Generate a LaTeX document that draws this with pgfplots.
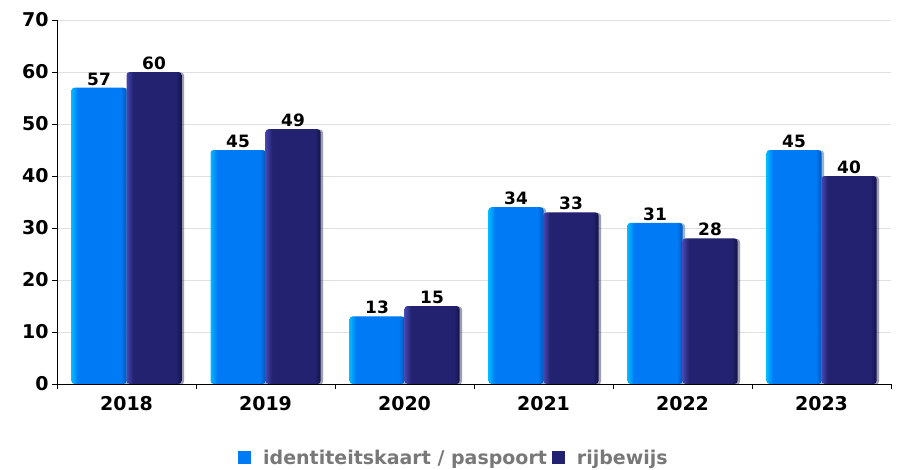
\documentclass[border=0pt]{standalone}
\usepackage{fontspec}
\setmainfont{DejaVu Sans}
\usepackage{pgfplots}
\pgfplotsset{compat=1.18}
\usetikzlibrary{shadows}
\definecolor{blueM}{RGB}{0,122,245}
\definecolor{blueL}{RGB}{0,185,255}
\definecolor{blueD}{RGB}{0,85,185}
\definecolor{navyM}{RGB}{34,34,112}
\definecolor{navyL}{RGB}{70,70,175}
\definecolor{navyD}{RGB}{20,20,72}
\definecolor{legtext}{RGB}{120,120,120}
\pgfdeclarehorizontalshading{barblue}{100bp}{color(0bp)=(blueL); color(25bp)=(blueL); color(31bp)=(blueM); color(70bp)=(blueM); color(75bp)=(blueD); color(100bp)=(blueD)}
\pgfdeclarehorizontalshading{barnavy}{100bp}{color(0bp)=(navyL); color(25bp)=(navyL); color(31bp)=(navyM); color(70bp)=(navyM); color(75bp)=(navyD); color(100bp)=(navyD)}
\pgfplotsset{
  bA/.style={ybar, bar width=55bp, bar shift=-27.5bp, draw=none, shading=barblue, rounded corners=3bp,
    drop shadow={shadow xshift=2.5bp, shadow yshift=-0.5bp, opacity=0.3}, forget plot,
    every node near coord/.append style={xshift=-27.5bp}},
  bB/.style={ybar, bar width=55bp, bar shift=27.5bp, draw=none, shading=barnavy, rounded corners=3bp,
    drop shadow={shadow xshift=2.5bp, shadow yshift=-0.5bp, opacity=0.3}, forget plot,
    every node near coord/.append style={xshift=27.5bp}},
}
\begin{document}
\begin{tikzpicture}
\path[use as bounding box] (0,0) rectangle (901bp,470bp);
\begin{axis}[
  at={(57bp,86bp)}, anchor=south west,
  scale only axis, width=834bp, height=364bp,
  ymin=0, ymax=70, ytick={0,10,...,70},
  xmin=-0.5, xmax=5.5, xtick={-0.5,0.5,...,5.5},
  x tick label as interval,
  xticklabels={2018,2019,2020,2021,2022,2023},
  x tick label style={yshift=-4bp},
  axis x line*=bottom, axis y line*=left,
  axis line style={-, black, line width=1pt},
  tick style={black, line width=1pt}, tick align=outside, major tick length=5bp,
  ymajorgrids, grid style={black!12, line width=0.8pt},
  /pgf/number format/assume math mode=true,
  ticklabel style={font=\bfseries\fontsize{19bp}{19bp}\selectfont, black},
  nodes near coords,
  nodes near coords style={font=\bfseries\fontsize{17bp}{17bp}\selectfont, black, inner sep=2bp, anchor=south},
  legend style={at={(0.476,-0.203)}, anchor=center, draw=none, fill=none,
    font=\bfseries\fontsize{19bp}{19bp}\selectfont, text=legtext,
    /tikz/every even column/.append style={column sep=3bp}},
  legend columns=2,
]
% identiteitskaart / paspoort
\addplot[bA] coordinates {(0,57)};
\addplot[bA] coordinates {(1,45)};
\addplot[bA] coordinates {(2,13)};
\addplot[bA] coordinates {(3,34)};
\addplot[bA] coordinates {(4,31)};
\addplot[bA] coordinates {(5,45)};
% rijbewijs
\addplot[bB] coordinates {(0,60)};
\addplot[bB] coordinates {(1,49)};
\addplot[bB] coordinates {(2,15)};
\addplot[bB] coordinates {(3,33)};
\addplot[bB] coordinates {(4,28)};
\addplot[bB] coordinates {(5,40)};
\addlegendimage{legend image code/.code={\fill[blueM, draw=none] (0bp,-6.5bp) rectangle (13bp,6.5bp); \path[draw=none, fill=none] (0bp,0bp) -- (23bp,0bp);}}
\addlegendentry{identiteitskaart / paspoort}
\addlegendimage{legend image code/.code={\fill[navyM, draw=none] (0bp,-6.5bp) rectangle (13bp,6.5bp); \path[draw=none, fill=none] (0bp,0bp) -- (23bp,0bp);}}
\addlegendentry{rijbewijs}
\end{axis}
\end{tikzpicture}
\end{document}
